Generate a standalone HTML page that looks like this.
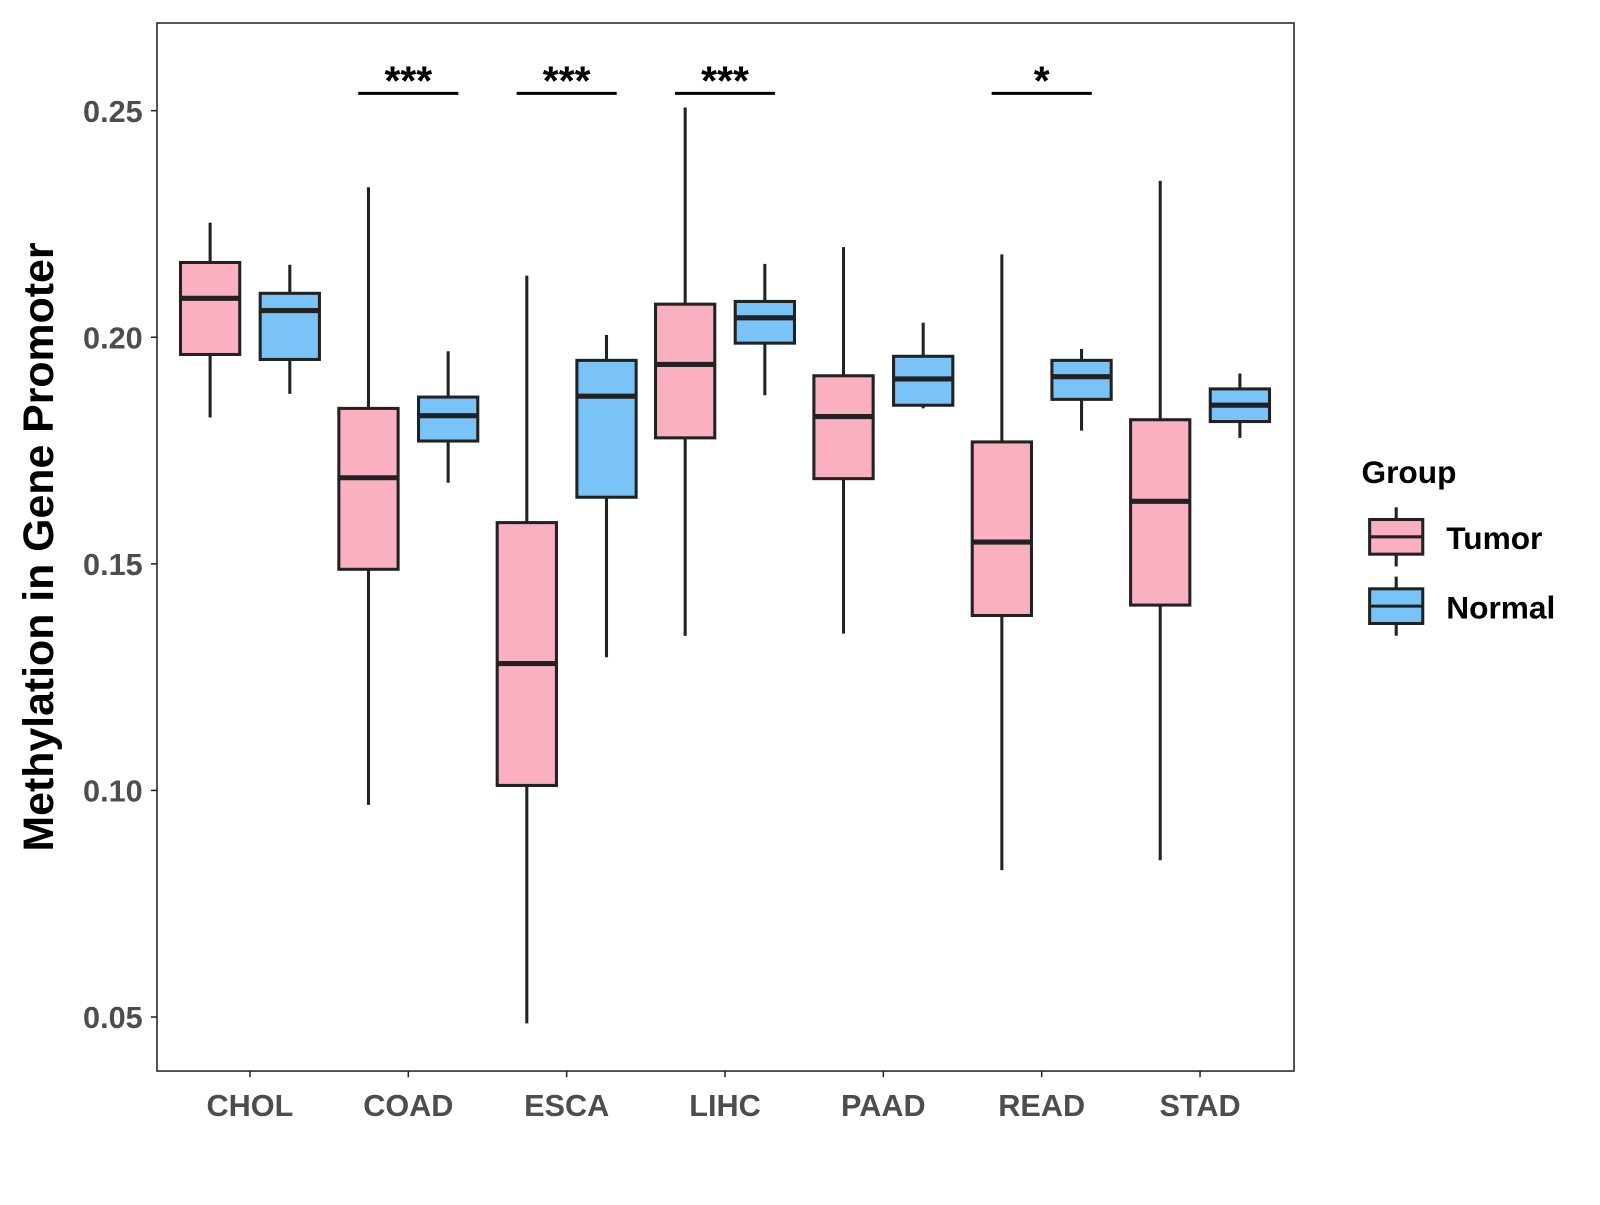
<!DOCTYPE html>
<html><head><meta charset="utf-8"><style>
html,body{margin:0;padding:0;background:#fff;}
svg text{font-family:"Liberation Sans",Arial,sans-serif;font-weight:bold;}
</style></head><body>
<svg id="chart" width="1600" height="1200" viewBox="0 0 1600 1200" xmlns="http://www.w3.org/2000/svg">
<rect x="0" y="0" width="1600" height="1200" fill="#fff"/>
<g transform="matrix(1.0216 0 0 1.0195 -1.35 0.57)">
<rect x="155" y="22" width="1113" height="1028" fill="none" stroke="#222" stroke-width="1.5"/>
<g id="marks"></g>
<text transform="translate(53,536) rotate(-90)" text-anchor="middle" font-size="42" fill="#000">Methylation in Gene Promoter</text>
<g>
<text x="1334" y="473" font-size="31" fill="#000">Group</text>
<g>
<line x1="1368" y1="497" x2="1368" y2="555" stroke="#222" stroke-width="3"/>
<rect x="1342" y="509" width="52" height="34" fill="#FBB0C2" stroke="#222" stroke-width="3"/>
<line x1="1342" y1="526" x2="1394" y2="526" stroke="#222" stroke-width="3"/>
<text x="1417" y="538" font-size="31" fill="#000">Tumor</text>
</g>
<g>
<line x1="1368" y1="565" x2="1368" y2="623" stroke="#222" stroke-width="3"/>
<rect x="1342" y="577" width="52" height="34" fill="#7AC3F8" stroke="#222" stroke-width="3"/>
<line x1="1342" y1="594" x2="1394" y2="594" stroke="#222" stroke-width="3"/>
<text x="1417" y="606" font-size="31" fill="#000">Normal</text>
</g>
</g>
</g>
</svg>
<script>
const categories = ["CHOL","COAD","ESCA","LIHC","PAAD","READ","STAD"];
const tumorLow    = [0.1823,0.0968,0.0486,0.1341,0.1346,0.0824,0.0846];
const tumorQ1     = [0.1962,0.1488,0.1011,0.1778,0.1688,0.1386,0.1409];
const tumorMedian = [0.2086,0.1690,0.1280,0.1940,0.1825,0.1548,0.1638];
const tumorQ3     = [0.2165,0.1843,0.1591,0.2073,0.1915,0.1769,0.1818];
const tumorHigh   = [0.2253,0.2331,0.2136,0.2507,0.2199,0.2183,0.2345];
const normalLow    = [0.1875,0.1679,0.1294,0.1872,0.1843,0.1794,0.1778];
const normalQ1     = [0.1951,0.1771,0.1647,0.1987,0.1850,0.1863,0.1814];
const normalMedian = [0.2059,0.1827,0.1870,0.2043,0.1908,0.1913,0.1850];
const normalQ3     = [0.2097,0.1868,0.1949,0.2079,0.1958,0.1949,0.1886];
const normalHigh   = [0.2160,0.1969,0.2005,0.2162,0.2032,0.1974,0.1920];
const significance = ["","***","***","***","","*",""];
const yTicks = [0.05,0.10,0.15,0.20,0.25];
const yTickLabels = ["0.05","0.10","0.15","0.20","0.25"];

const NS="http://www.w3.org/2000/svg";
const g=document.getElementById('marks');
function yScale(v){return 108+(0.25-v)/0.05*222.25;}
function xScale(i){return 246+i*155;}
function mk(tag,attrs,parent){const e=document.createElementNS(NS,tag);for(const k in attrs)e.setAttribute(k,attrs[k]);(parent||g).appendChild(e);return e;}

yTicks.forEach((t,i)=>{
  const y=yScale(t);
  const tk=mk('line',{x1:149,x2:155,y1:y,y2:y,stroke:'#222','stroke-width':1.5});
  
  
  const tl=mk('text',{x:141,y:y+11,'text-anchor':'end','font-size':30,fill:'#4d4d4d'});
  
  
  tl.textContent=yTickLabels[i];
});

function box(cx,lo,q1,med,q3,hi,fill,name){
  const grp=mk('g',{});
  
  
  mk('line',{x1:cx,x2:cx,y1:yScale(hi),y2:yScale(lo),stroke:'#222','stroke-width':3},grp);
  mk('rect',{x:cx-29,y:yScale(q3),width:58,height:yScale(q1)-yScale(q3),fill:fill,stroke:'#222','stroke-width':3},grp);
  mk('line',{x1:cx-29,x2:cx+29,y1:yScale(med),y2:yScale(med),stroke:'#222','stroke-width':5},grp);
}

categories.forEach((c,i)=>{
  const cx=xScale(i);
  box(cx-39,tumorLow[i],tumorQ1[i],tumorMedian[i],tumorQ3[i],tumorHigh[i],'#FBB0C2','box-tumor-'+c.toLowerCase());
  box(cx+39,normalLow[i],normalQ1[i],normalMedian[i],normalQ3[i],normalHigh[i],'#7AC3F8','box-normal-'+c.toLowerCase());
  const tk=mk('line',{x1:cx,x2:cx,y1:1050,y2:1056,stroke:'#222','stroke-width':1.5});
  
  
  const tl=mk('text',{x:cx,y:1094,'text-anchor':'middle','font-size':30,fill:'#4d4d4d'});
  
  
  tl.textContent=c;
  if(significance[i]){
    const sb=mk('line',{x1:cx-49,x2:cx+49,y1:91,y2:91,stroke:'#000','stroke-width':3});
    
    
    const st=mk('text',{x:cx,y:92,'text-anchor':'middle','font-size':40,fill:'#000'});
    
    
    st.textContent=significance[i];
  }
});
</script>
</body></html>
